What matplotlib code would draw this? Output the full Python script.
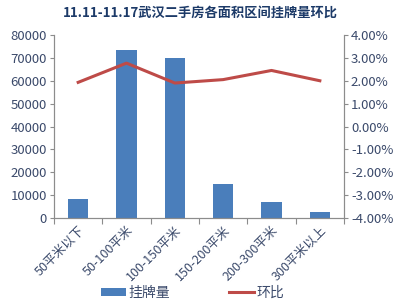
import matplotlib
matplotlib.use("Agg")
import matplotlib.pyplot as plt
import numpy as np
from matplotlib.ticker import FuncFormatter, FixedLocator

plt.rcParams['font.family'] = ['Noto Sans CJK SC', 'DejaVu Sans']

title = "11.11-11.17武汉二手房各面积区间挂牌量环比"
categories = ["50平米以下", "50-100平米", "100-150平米", "150-200平米", "200-300平米", "300平米以上"]
listings = [8400, 73500, 70000, 15000, 7000, 2700]
mom_pct = [1.93, 2.77, 1.90, 2.05, 2.45, 2.00]
left_ticks = [0, 10000, 20000, 30000, 40000, 50000, 60000, 70000, 80000]
right_ticks = [-4, -3, -2, -1, 0, 1, 2, 3, 4]

bar_color = "#4a7ebb"
line_color = "#be4b48"
axis_color = "#8c8c8c"
text_color = "#3b4a6b"

fig = plt.figure(figsize=(4.01, 3.07), dpi=100)
W, H = 401, 307
ax = fig.add_axes([54 / W, 1 - 218 / H, (344 - 54) / W, (218 - 35) / H])
x = np.arange(len(categories))
ax.bar(x, listings, width=0.42, color=bar_color, zorder=2, label="挂牌量")
ax.set_xlim(-0.5, len(categories) - 0.5)
ax.set_ylim(0, 80000)
ax.set_yticks(left_ticks)
ax.yaxis.set_major_formatter(FuncFormatter(lambda v, p: f"{int(v)}"))

ax2 = ax.twinx()
ax2.plot(x, mom_pct, color=line_color, lw=2.2, zorder=3, label="环比")
ax2.set_ylim(-4, 4)
ax2.set_yticks(right_ticks)
ax2.yaxis.set_major_formatter(FuncFormatter(lambda v, p: f"{v:.2f}%"))

for a in (ax, ax2):
    for s in a.spines.values():
        s.set_color(axis_color)
        s.set_linewidth(0.8)
    a.spines['top'].set_visible(False)
    a.tick_params(colors=axis_color, labelcolor=text_color, labelsize=9.5, length=3, width=0.8)

ax.set_xticks(x)
ax.set_xticklabels(categories, rotation=45, ha='right', rotation_mode='anchor',
                   fontsize=9, color=text_color)
ax.tick_params(axis='x', length=0, pad=4)
ax.xaxis.set_minor_locator(FixedLocator(np.arange(-0.5, len(categories), 1.0)))
ax.tick_params(axis='x', which='minor', length=4, color=axis_color, width=0.8)
ax.tick_params(axis='y', pad=2)
ax2.tick_params(axis='y', pad=2)

fig.text(0.5, 1 - 13 / H, title, ha='center', va='center', fontsize=9.5,
         fontweight='bold', color="#1c3a68")

h1, l1 = ax.get_legend_handles_labels()
h2, l2 = ax2.get_legend_handles_labels()
fig.legend(h1 + h2, l1 + l2, loc='center', bbox_to_anchor=(0.48, 1 - 293 / H), ncol=2,
           frameon=False, fontsize=10, handlelength=1.8, handleheight=0.55,
           columnspacing=4.2, labelcolor=text_color, handletextpad=0.2)

fig.savefig("out.png", dpi=100)
